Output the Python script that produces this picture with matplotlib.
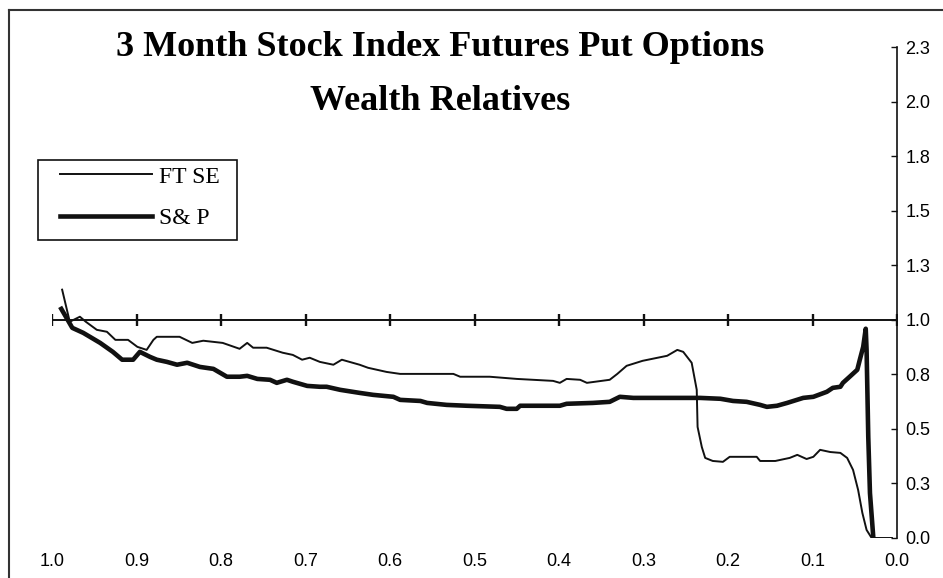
import numpy as np
import matplotlib
matplotlib.use("Agg")
import matplotlib.pyplot as plt
from matplotlib.lines import Line2D
from matplotlib.patches import Rectangle

# fraction of life remaining (x) vs wealth relative (y)
FTSE_X = [0.988, 0.979, 0.967, 0.960, 0.947, 0.935, 0.925, 0.910, 0.899, 0.888,
          0.880, 0.876, 0.849, 0.834, 0.821, 0.798, 0.778, 0.769, 0.762, 0.746,
          0.727, 0.715, 0.704, 0.695, 0.683, 0.667, 0.657, 0.636, 0.626, 0.604,
          0.588, 0.525, 0.517, 0.482, 0.450, 0.407, 0.399, 0.391, 0.375, 0.367,
          0.340, 0.331, 0.320, 0.301, 0.272, 0.260, 0.253, 0.243, 0.237, 0.236,
          0.231, 0.227, 0.218, 0.206, 0.198, 0.166, 0.162, 0.144, 0.127, 0.118,
          0.107, 0.099, 0.091, 0.079, 0.067, 0.059, 0.052, 0.046, 0.041, 0.036,
          0.030, 0.006]
FTSE_Y = [1.138, 0.991, 1.014, 0.991, 0.954, 0.945, 0.908, 0.908, 0.876, 0.862,
          0.908, 0.922, 0.922, 0.894, 0.904, 0.894, 0.867, 0.894, 0.872, 0.872,
          0.849, 0.839, 0.817, 0.826, 0.807, 0.794, 0.817, 0.794, 0.780, 0.761,
          0.752, 0.752, 0.739, 0.739, 0.729, 0.720, 0.711, 0.729, 0.725, 0.711,
          0.725, 0.752, 0.789, 0.812, 0.835, 0.862, 0.853, 0.803, 0.679, 0.509,
          0.417, 0.367, 0.353, 0.349, 0.372, 0.372, 0.353, 0.353, 0.367, 0.381,
          0.362, 0.372, 0.404, 0.394, 0.390, 0.367, 0.312, 0.220, 0.115, 0.037,
          0.000, 0.000]

SP_X = [0.989, 0.976, 0.963, 0.943, 0.928, 0.917, 0.904, 0.896, 0.884, 0.876,
        0.864, 0.852, 0.840, 0.825, 0.809, 0.793, 0.778, 0.769, 0.757, 0.742,
        0.734, 0.722, 0.715, 0.698, 0.683, 0.675, 0.659, 0.636, 0.620, 0.596,
        0.588, 0.564, 0.556, 0.533, 0.509, 0.470, 0.462, 0.450, 0.446, 0.399,
        0.391, 0.360, 0.340, 0.328, 0.312, 0.233, 0.209, 0.194, 0.178, 0.162,
        0.154, 0.142, 0.130, 0.111, 0.099, 0.083, 0.076, 0.067, 0.064, 0.056,
        0.047, 0.044, 0.040, 0.037, 0.036, 0.034, 0.032, 0.028]
SP_Y = [1.050, 0.963, 0.940, 0.894, 0.853, 0.817, 0.817, 0.853, 0.830, 0.817,
        0.807, 0.794, 0.803, 0.784, 0.775, 0.739, 0.739, 0.743, 0.729, 0.725,
        0.711, 0.725, 0.716, 0.697, 0.693, 0.693, 0.679, 0.665, 0.656, 0.647,
        0.633, 0.628, 0.619, 0.610, 0.606, 0.601, 0.592, 0.592, 0.606, 0.606,
        0.615, 0.619, 0.624, 0.647, 0.642, 0.642, 0.638, 0.628, 0.624, 0.610,
        0.601, 0.606, 0.619, 0.642, 0.647, 0.670, 0.688, 0.693, 0.711, 0.739,
        0.771, 0.817, 0.876, 0.959, 0.862, 0.463, 0.206, 0.000]

X_TICKS = [1.0, 0.9, 0.8, 0.7, 0.6, 0.5, 0.4, 0.3, 0.2, 0.1, 0.0]
X_TICK_LABELS = ["1.0", "0.9", "0.8", "0.7", "0.6", "0.5", "0.4", "0.3", "0.2", "0.1", "0.0"]
Y_TICKS = [0.0, 0.25, 0.5, 0.75, 1.0, 1.25, 1.5, 1.75, 2.0, 2.25]
Y_TICK_LABELS = ["0.0", "0.3", "0.5", "0.8", "1.0", "1.3", "1.5", "1.8", "2.0", "2.3"]

INK = "#111111"
SERIF = ["Liberation Serif", "DejaVu Serif"]
SANS = ["Liberation Sans", "DejaVu Sans"]

W, H = 943, 578
fig = plt.figure(figsize=(W / 100, H / 100), dpi=100)
ax = fig.add_axes([52 / W, 1 - 538 / H, (897 - 52) / W, (538 - 47) / H])

ax.plot(FTSE_X, FTSE_Y, color=INK, lw=1.4, label="FT SE", zorder=3)
ax.plot(SP_X, SP_Y, color=INK, lw=3.3, label="S& P", zorder=4)

# category axis crosses at 1.0, with crossing tick marks
ax.axhline(1.0, color=INK, lw=1.4, zorder=2)
ax.plot(X_TICKS, [1.0] * len(X_TICKS), ls="none", marker="|", ms=9, mew=1.7,
        color=INK, zorder=2)

ax.set_xlim(1.0, 0.0)
ax.set_ylim(0.0, 2.25)
for side in ("top", "left", "bottom"):
    ax.spines[side].set_visible(False)
ax.spines["right"].set_color(INK)
ax.spines["right"].set_linewidth(1.2)

ax.set_xticks(X_TICKS)
ax.set_xticklabels(X_TICK_LABELS, family=SANS, fontsize=13)
ax.tick_params(axis="x", length=0, pad=11)

ax.yaxis.tick_right()
ax.set_yticks(Y_TICKS)
ax.set_yticklabels(Y_TICK_LABELS, family=SANS, fontsize=13)
ax.tick_params(axis="y", direction="in", length=4, width=1, color=INK, pad=6)

# legend entries without their own frame; box drawn to match the scan
leg = ax.legend(loc="upper left", bbox_to_anchor=(60 / W, 1 - 166 / H),
                bbox_transform=fig.transFigure, borderaxespad=0, borderpad=0,
                frameon=False, prop={"family": SERIF, "size": 17},
                handlelength=3.9, handletextpad=0.3, labelspacing=0.85)
fig.add_artist(Rectangle((38 / W, 1 - 240 / H), (237 - 38) / W, (240 - 160) / H,
                         transform=fig.transFigure, fill=False,
                         edgecolor=INK, lw=1.2))

fig.text(440 / W, 1 - 47 / H, "3 Month Stock Index Futures Put Options",
         ha="center", va="center", family=SERIF, fontweight="bold", fontsize=26)
fig.text(440 / W, 1 - 101 / H, "Wealth Relatives",
         ha="center", va="center", family=SERIF, fontweight="bold", fontsize=26)

# outer chart border (only top and left edges show in the scan)
fig.add_artist(Line2D([9 / W, 9 / W], [0, 1 - 10 / H], transform=fig.transFigure,
                      color="#333333", lw=1.5))
fig.add_artist(Line2D([9 / W, 1], [1 - 10 / H, 1 - 10 / H], transform=fig.transFigure,
                      color="#333333", lw=1.5))

fig.savefig("out.png", dpi=100)
